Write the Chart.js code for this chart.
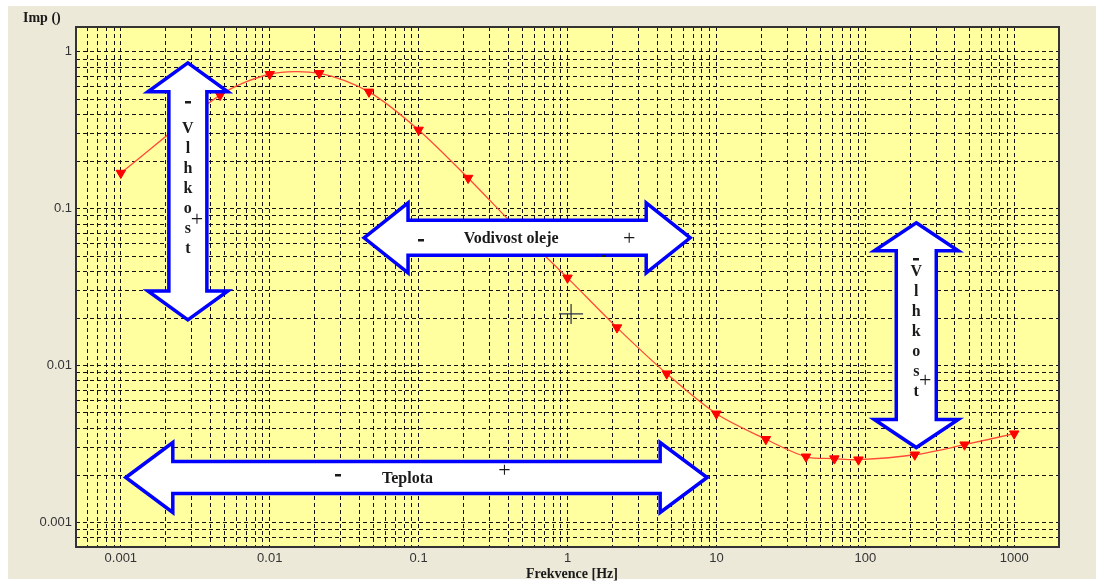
<!DOCTYPE html>
<html>
<head>
<meta charset="utf-8">
<script src="https://cdn.jsdelivr.net/npm/chart.js@4/dist/chart.umd.min.js"></script>
<style>
  html, body { margin: 0; padding: 0; background: #fff; }
  #wrap { width: 1096px; height: 581px; }
</style>
</head>
<body>
<div id="wrap"><canvas id="c"></canvas></div>
<script>
// measured curve (Hz vs impedance)
const frequency = [0.001, 0.00464, 0.01, 0.0215, 0.0464, 0.1, 0.215, 0.464, 1, 2.15, 4.64, 10, 21.5, 40, 62, 90, 215, 464, 1000];
const impedance = [0.169, 0.53, 0.72, 0.73, 0.556, 0.318, 0.157, 0.074, 0.0363, 0.0175, 0.0089, 0.00494, 0.0034, 0.00263, 0.00256, 0.00252, 0.00271, 0.00314, 0.00369];

const xTickLabels = ["0.001", "0.01", "0.1", "1", "10", "100", "1000"];
const yTickLabels = ["0.001", "0.01", "0.1", "1"];

const xRange = [0.0005, 2000];
const yRange = [0.0007, 1.44];

// block arrows, tips given in data units (Hz, impedance)
const arrows = [
  { dir: "v", at: 0.00282, from: 0.851, to: 0.0196, head: 29, headHalf: 40, shaftHalf: 19 },
  { dir: "h", at: 0.0653, from: 0.043, to: 6.67, head: 44, headHalf: 35, shaftHalf: 17.5 },
  { dir: "v", at: 220, from: 0.0814, to: 0.00301, head: 28, headHalf: 42, shaftHalf: 20 },
  { dir: "h", at: 0.00194, from: 0.00108, to: 8.67, head: 47, headHalf: 35, shaftHalf: 16 },
];
const arrowTexts = [
  ["V", "l", "h", "k", "o", "s", "t"],
  ["Vodivost oleje"],
  ["V", "l", "h", "k", "o", "s", "t"],
  ["Teplota"],
];

function minorTicks(lo, hi) {
  const out = [];
  for (let e = -5; e <= 4; e++) {
    const d = Math.pow(10, e);
    for (let m = 1; m <= 9; m++) {
      const v = +(m * d).toPrecision(6);
      if (v >= lo * 0.9999 && v <= hi * 1.0001) out.push(v);
    }
  }
  return out;
}

function labelFor(list) {
  return (v) => {
    const hit = list.find((s) => Math.abs(v / parseFloat(s) - 1) < 1e-6);
    return hit || "";
  };
}

function arrowPath(ctx, a, x1, y1, x2, y2) {
  const L = a.head, H = a.headHalf, S = a.shaftHalf;
  ctx.beginPath();
  if (a.dir === "h") {
    const y = y1;
    ctx.moveTo(x1, y);
    ctx.lineTo(x1 + L, y - H); ctx.lineTo(x1 + L, y - S);
    ctx.lineTo(x2 - L, y - S); ctx.lineTo(x2 - L, y - H);
    ctx.lineTo(x2, y);
    ctx.lineTo(x2 - L, y + H); ctx.lineTo(x2 - L, y + S);
    ctx.lineTo(x1 + L, y + S); ctx.lineTo(x1 + L, y + H);
  } else {
    const x = x1;
    ctx.moveTo(x, y1);
    ctx.lineTo(x + H, y1 + L); ctx.lineTo(x + S, y1 + L);
    ctx.lineTo(x + S, y2 - L); ctx.lineTo(x + H, y2 - L);
    ctx.lineTo(x, y2);
    ctx.lineTo(x - H, y2 - L); ctx.lineTo(x - S, y2 - L);
    ctx.lineTo(x - S, y1 + L); ctx.lineTo(x - H, y1 + L);
  }
  ctx.closePath();
}

function dash(ctx, x, y) {
  ctx.fillRect(Math.round(x - 3), Math.round(y - 1), 6, 2.5);
}

function plus(ctx, x, y) {
  ctx.font = '22px "Liberation Serif"';
  ctx.fillText("+", x, y);
}

const backdrop = {
  id: "backdrop",
  beforeDraw(chart) {
    const { ctx, chartArea: a } = chart;
    ctx.save();
    ctx.fillStyle = "#ffffff";
    ctx.fillRect(0, 0, chart.width, chart.height);
    ctx.fillStyle = "#ECE9D8";
    ctx.fillRect(8, 6, chart.width - 8, chart.height - 8);
    ctx.fillStyle = "#FFFF9F";
    ctx.fillRect(a.left, a.top, a.right - a.left, a.bottom - a.top);
    ctx.restore();
  },
  afterDraw(chart) {
    const { ctx, chartArea: a, scales } = chart;
    const sx = scales.x, sy = scales.y;
    ctx.save();
    // frame
    ctx.strokeStyle = "#333";
    ctx.lineWidth = 2;
    ctx.strokeRect(a.left, a.top, a.right - a.left, a.bottom - a.top);

    // block arrows
    arrows.forEach((ar, i) => {
      let x1, y1, x2, y2;
      if (ar.dir === "h") {
        x1 = sx.getPixelForValue(ar.from); x2 = sx.getPixelForValue(ar.to);
        y1 = y2 = sy.getPixelForValue(ar.at);
      } else {
        x1 = x2 = sx.getPixelForValue(ar.at);
        y1 = sy.getPixelForValue(ar.from); y2 = sy.getPixelForValue(ar.to);
      }
      arrowPath(ctx, ar, x1, y1, x2, y2);
      ctx.fillStyle = "#ffffff";
      ctx.fill();
      ctx.lineWidth = 3.5;
      ctx.lineJoin = "miter";
      ctx.strokeStyle = "#0000FF";
      ctx.stroke();

      const cx = (x1 + x2) / 2, cy = (y1 + y2) / 2;
      ctx.fillStyle = "#1a1a1a";
      ctx.textAlign = "center";
      ctx.textBaseline = "middle";
      ctx.font = 'bold 16px "Liberation Serif"';
      const t = arrowTexts[i];
      if (ar.dir === "v") {
        dash(ctx, cx, cy + (i === 0 ? -89 : -76));
        for (let k = 0; k < t.length; k++) ctx.fillText(t[k], cx, cy - 63 + k * 20);
        plus(ctx, cx + 9, cy + (i === 0 ? 29 : 46));
      } else {
        const dm = i === 1 ? -106 : -78, dp = i === 1 ? 102 : 88, dt = i === 1 ? -16 : -9;
        ctx.fillText(t[0], cx + dt, cy + 1);
        dash(ctx, cx + dm, cy + (i === 1 ? 2 : -3));
        plus(ctx, cx + dp, cy + (i === 1 ? 1 : -6));
      }
    });

    // stray marks
    const px = sx.getPixelForValue(1.057), py = sy.getPixelForValue(0.0214);
    ctx.strokeStyle = "#2a2f4a";
    ctx.lineWidth = 1.2;
    ctx.beginPath();
    ctx.moveTo(px - 12, py); ctx.lineTo(px + 12, py);
    ctx.moveTo(px, py - 10); ctx.lineTo(px, py + 10);
    ctx.stroke();
    ctx.fillStyle = "#1a1a1a";
    ctx.fillRect(Math.round(sx.getPixelForValue(1.76)) - 2, Math.round(sy.getPixelForValue(0.0509)), 4, 2);

    // axis titles
    ctx.font = 'bold 14px "Liberation Serif"';
    ctx.textAlign = "left";
    ctx.textBaseline = "middle";
    ctx.fillText("Imp ()", 23, 18);
    ctx.textAlign = "center";
    ctx.fillText("Frekvence [Hz]", 572, 574);
    ctx.restore();
  },
};

const xTicks = minorTicks(xRange[0], xRange[1]);
const yTicks = minorTicks(yRange[0], yRange[1]);

new Chart(document.getElementById("c"), {
  type: "line",
  data: {
    datasets: [
      {
        data: frequency.map((f, i) => ({ x: f, y: impedance[i] })),
        borderColor: "#FF4A3A",
        borderWidth: 1.3,
        tension: 0.3,
        pointStyle: "triangle",
        rotation: 180,
        radius: 5.5,
        pointBackgroundColor: "#FF0000",
        pointBorderColor: "#FF0000",
        pointBorderWidth: 1,
        fill: false,
      },
    ],
  },
  options: {
    responsive: true,
    maintainAspectRatio: false,
    animation: false,
    devicePixelRatio: 1,
    layout: { padding: { top: 27, right: 37, bottom: 0, left: 0 } },
    plugins: {
      legend: { display: false },
      tooltip: { enabled: false },
    },
    scales: {
      x: {
        type: "logarithmic",
        min: xRange[0],
        max: xRange[1],
        afterBuildTicks: (s) => { s.ticks = xTicks.map((v) => ({ value: v })); },
        afterFit: (s) => { s.height = 34; },
        grid: { color: "#111", lineWidth: 1, drawTicks: false },
        border: { display: false, dash: [4, 3] },
        ticks: {
          autoSkip: false,
          maxRotation: 0,
          padding: 4,
          color: "#333",
          font: { family: "Liberation Sans", size: 13 },
          callback: labelFor(xTickLabels),
        },
      },
      y: {
        type: "logarithmic",
        min: yRange[0],
        max: yRange[1],
        afterBuildTicks: (s) => { s.ticks = yTicks.map((v) => ({ value: v })); },
        afterFit: (s) => { s.width = 76; },
        grid: { color: "#111", lineWidth: 1, drawTicks: false },
        border: { display: false, dash: [4, 3] },
        ticks: {
          autoSkip: false,
          padding: 4,
          color: "#333",
          font: { family: "Liberation Sans", size: 13 },
          callback: labelFor(yTickLabels),
        },
      },
    },
  },
  plugins: [backdrop],
});
</script>
</body>
</html>
